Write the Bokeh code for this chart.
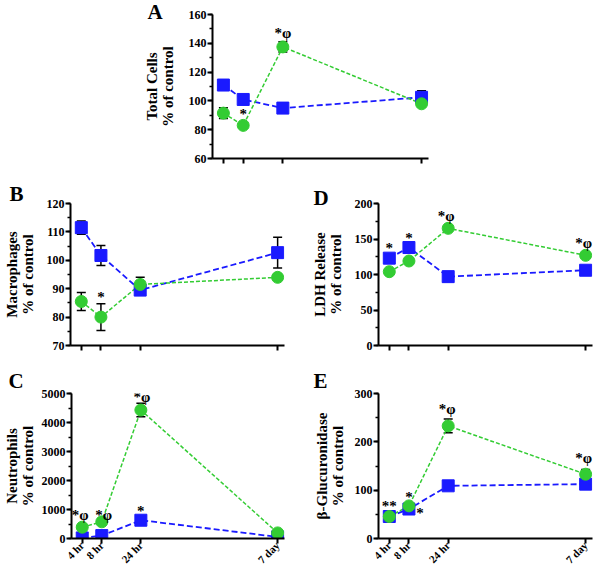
from bokeh.plotting import figure
from bokeh.layouts import column, row
from bokeh.models import (Title, LabelSet, Whisker, TeeHead, ColumnDataSource,
                          FixedTicker, SingleIntervalTicker, Range1d)
from bokeh.embed import file_html
from bokeh.resources import INLINE

# ---------------- data ----------------
time_labels = ["4 hr", "8 hr", "24 hr", "7 day"]
time_pos = [0, 1, 3, 10]

# A: Total cells
total_blue = [111.0, 101.0, 95.0, 102.5]
total_blue_err = [1.5, 1.5, 1.5, 4.5]
total_green = [91.5, 83.0, 137.5, 98.0]
total_green_err = [3.8, 1.5, 3.6, 1.5]
total_ann_idx = [1, 2]
total_ann_val = [91.0, 147.0]
total_ann_text = ["*", "*φ"]
total_ann_dx = [0, 0]

# B: Macrophages
mac_blue = [111.5, 101.7, 89.5, 102.7]
mac_blue_err = [2.3, 3.5, 1.5, 5.4]
mac_green = [85.5, 80.0, 91.5, 94.0]
mac_green_err = [3.2, 4.7, 2.5, 0.8]
mac_ann_idx = [1]
mac_ann_val = [87.0]
mac_ann_text = ["*"]
mac_ann_dx = [0]

# C: Neutrophils
neu_blue = [20.0, 100.0, 630.0, 55.0]
neu_blue_err = [20.0, 30.0, 60.0, 20.0]
neu_green = [390.0, 575.0, 4430.0, 193.0]
neu_green_err = [60.0, 80.0, 230.0, 40.0]
neu_ann_idx = [0, 1, 2, 2]
neu_ann_val = [800.0, 800.0, 4870.0, 950.0]
neu_ann_text = ["*φ", "*φ", "*φ", "*"]
neu_ann_dx = [-2, 2, 1, 0]

# D: LDH release
ldh_blue = [123.0, 138.0, 97.0, 106.0]
ldh_blue_err = [3.0, 3.0, 3.0, 3.0]
ldh_green = [104.0, 119.0, 165.0, 127.0]
ldh_green_err = [3.0, 3.0, 3.0, 3.0]
ldh_ann_idx = [0, 1, 2, 3]
ldh_ann_val = [137.5, 152.0, 182.0, 144.5]
ldh_ann_text = ["*", "*", "*φ", "*φ"]
ldh_ann_dx = [0, 0, -2, -2]

# E: beta-glucuronidase
glu_blue = [45.5, 61.0, 109.0, 112.5]
glu_blue_err = [3.0, 3.0, 4.0, 5.0]
glu_green = [45.5, 67.5, 233.0, 133.0]
glu_green_err = [3.0, 4.0, 14.0, 10.0]
glu_ann_idx = [0, 1, 1, 2, 3]
glu_ann_val = [67.5, 86.0, 52.0, 268.0, 167.0]
glu_ann_text = ["**", "*", "*", "*φ", "*φ"]
glu_ann_dx = [0, 0, 11, -1, -2]

# ---------------- style ----------------
FONT = "Liberation Serif"
BLUE = "#1a1aff"
GREEN = "#33cc33"


def panel(width, height, borders, yr, ystep, ylabel, blue, blue_err, green,
          green_err, ann_idx, ann_val, ann_text, ann_dx, letter, letter_dx,
          letter_standoff, xlabels, ylabel_standoff):
    left, right, top, bottom = borders
    p = figure(width=width, height=height, x_range=Range1d(-0.55, 10.35),
               y_range=Range1d(*yr), output_backend="svg", toolbar_location=None,
               min_border_left=left, min_border_right=right,
               min_border_top=top, min_border_bottom=bottom)
    p.outline_line_color = None
    p.grid.visible = False
    p.background_fill_color = "white"

    # panel letter (as a left-aligned title shifted over the axis label)
    p.add_layout(Title(text=letter, align="left", offset=letter_dx,
                       standoff=letter_standoff, vertical_align="bottom",
                       text_font=FONT, text_font_style="bold",
                       text_font_size="21px", text_color="black"), "above")

    # axes
    for ax in (p.xaxis[0], p.yaxis[0]):
        ax.axis_line_width = 2
        ax.axis_line_color = "black"
        ax.major_tick_line_width = 2
        ax.major_tick_in = 0
        ax.major_tick_out = 5
        ax.minor_tick_in = 0
        ax.major_label_text_font = FONT
        ax.major_label_text_font_style = "bold"
        ax.major_label_text_color = "black"
    yax = p.yaxis[0]
    yax.ticker = SingleIntervalTicker(interval=ystep, num_minor_ticks=2)
    yax.minor_tick_out = 3
    yax.minor_tick_line_width = 1.5
    yax.major_label_text_font_size = "12px"
    yax.major_label_standoff = 1
    yax.axis_label = ylabel
    yax.axis_label_text_font = FONT
    yax.axis_label_text_font_style = "bold"
    yax.axis_label_text_font_size = "15px"
    yax.axis_label_text_line_height = 1.0
    yax.axis_label_text_color = "black"
    yax.axis_label_standoff = ylabel_standoff

    xax = p.xaxis[0]
    xax.ticker = FixedTicker(ticks=time_pos, minor_ticks=[])
    xax.minor_tick_line_color = None
    if xlabels:
        xax.major_label_overrides = {t: lab for t, lab in zip(time_pos, time_labels)}
        xax.major_label_orientation = 0.785
        xax.major_label_text_font_size = "11px"
        xax.major_label_standoff = 0
    else:
        xax.major_label_overrides = {t: "" for t in time_pos}
        xax.major_label_text_font_size = "1px"

    # error bars
    for vals, errs in ((blue, blue_err), (green, green_err)):
        src = ColumnDataSource(dict(x=time_pos,
                                    lo=[v - e for v, e in zip(vals, errs)],
                                    hi=[v + e for v, e in zip(vals, errs)]))
        w = Whisker(source=src, base="x", lower="lo", upper="hi",
                    line_color="black", line_width=1.5, level="underlay",
                    upper_head=TeeHead(size=9, line_width=1.5, line_color="black"),
                    lower_head=TeeHead(size=9, line_width=1.5, line_color="black"))
        p.add_layout(w)

    # lines and markers
    p.line(time_pos, blue, line_color=BLUE, line_width=1.8, line_dash="6 3")
    p.line(time_pos, green, line_color=GREEN, line_width=1.5, line_dash="4 2")
    p.scatter(time_pos, blue, marker="square", size=12, fill_color=BLUE,
              line_color=BLUE)
    p.scatter(time_pos, green, marker="circle", size=12, fill_color=GREEN,
              line_color=GREEN)

    # significance marks
    asrc = ColumnDataSource(dict(x=[time_pos[i] for i in ann_idx], y=ann_val,
                                 t=ann_text, dx=ann_dx))
    p.add_layout(LabelSet(source=asrc, x="x", y="y", text="t", x_offset="dx",
                          text_font=FONT, text_font_style="bold",
                          text_font_size="15px", text_align="center",
                          text_baseline="middle", text_color="black"))
    return p


pA = panel(600, 180, (212, 172, 14, 22), (60, 160), 20, "Total Cells\n% of control",
           total_blue, total_blue_err, total_green, total_green_err,
           total_ann_idx, total_ann_val, total_ann_text, total_ann_dx,
           "A", -65, -18, False, 10)
pB = panel(300, 184, (68, 16, 23, 18), (70, 120), 10, "Macrophages\n% of control",
           mac_blue, mac_blue_err, mac_green, mac_green_err,
           mac_ann_idx, mac_ann_val, mac_ann_text, mac_ann_dx,
           "B", -61, -4, False, 8)
pD = panel(300, 184, (78, 8, 22, 19), (0, 200), 50, "LDH Release\n% of control",
           ldh_blue, ldh_blue_err, ldh_green, ldh_green_err,
           ldh_ann_idx, ldh_ann_val, ldh_ann_text, ldh_ann_dx,
           "D", -65, -12, False, 8)
pC = panel(300, 208, (68, 16, 29, 34), (0, 5000), 1000, "Neutrophils\n% of control",
           neu_blue, neu_blue_err, neu_green, neu_green_err,
           neu_ann_idx, neu_ann_val, neu_ann_text, neu_ann_dx,
           "C", -63, 2, True, 3)
pE = panel(300, 208, (78, 8, 29, 34), (0, 300), 100, "β-Glucuronidase\n% of control",
           glu_blue, glu_blue_err, glu_green, glu_green_err,
           glu_ann_idx, glu_ann_val, glu_ann_text, glu_ann_dx,
           "E", -65, 2, True, 6)

layout = column(pA, row(pB, pD), row(pC, pE))
open("out.html", "w").write(file_html(layout, INLINE))
